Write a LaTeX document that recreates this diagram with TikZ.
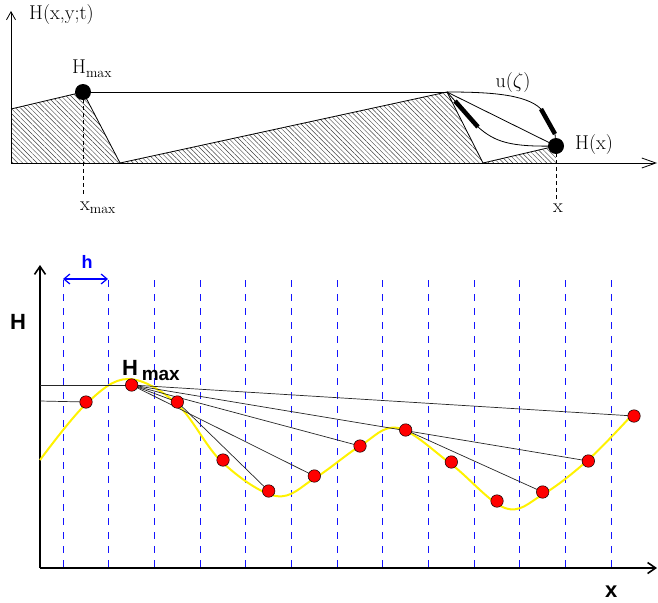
\documentclass[tikz,border=0pt]{standalone}
\usepackage{fontspec}
\newfontfamily\arialf{Liberation Sans}
\usetikzlibrary{arrows.meta,patterns.meta}
\pgfdeclarelayer{bg}
\pgfsetlayers{bg,main}
\definecolor{gridblue}{RGB}{20,20,255}
\begin{document}
\begin{tikzpicture}[x=1pt,y=-1pt,
  tline/.style={line width=0.8pt},
  bigdot/.style={circle,fill=black,inner sep=0pt,minimum size=16pt},
  reddot/.style={circle,fill=red,draw=black,line width=0.5pt,inner sep=0pt,minimum size=12.5pt},
  gridl/.style={draw=gridblue,line width=0.9pt,dash pattern=on 7pt off 7pt},
  topdash/.style={line width=0.8pt,dash pattern=on 4pt off 3pt},
  bar/.style={line width=4.5pt},
  axisb/.style={line width=1.8pt,-{Straight Barb[length=8pt,width=11pt,line width=1.6pt]}},
  toplbl/.style={inner sep=0pt,font=\fontsize{20}{22}\selectfont},
  sanslbl/.style={inner sep=0pt,font=\arialf\bfseries\fontsize{22}{24}\selectfont},
  hypo/.style={line width=0.7pt,black!85}
]
\useasboundingbox (0,0) rectangle (658,602);

% ---------------- top panel ----------------
\coordinate (yax0) at (11,163);
\coordinate (yaxtop) at (11,11);
\coordinate (xaxend) at (657,163);
\coordinate (l1) at (11,109);
\coordinate (v1) at (120,163);
\coordinate (pk) at (447,92);
\coordinate (v2) at (483,163);
\coordinate (hxb) at (556,163);
\coordinate (xmaxend) at (83,196);
\coordinate (xend) at (556,201);
\coordinate (bA1) at (541,109);
\coordinate (bA2) at (555,134);
\coordinate (bC1) at (455,101);
\coordinate (bC2) at (478,127);

\node[bigdot] (hmax) at (83,92) {};
\node[bigdot] (hx) at (556,146) {};

\begin{pgfonlayer}{bg}
\fill[pattern={Lines[angle=-45,distance=3.4pt,line width=0.45pt]}, pattern color=black!75] (yax0) -- (l1) -- (hmax.center) -- (v1) -- (pk) -- (v2) -- (hx.center) -- (hxb) -- cycle;
\draw[tline] (l1) -- (hmax.center) -- (v1) -- (pk) -- (v2) -- (hx.center);
\draw[tline] (hmax.center) -- (pk);
\draw[tline] (pk) .. controls (488,92) and (526,94) .. (bA1);
\draw[bar] (bA1) -- (bA2);
\draw[tline] (bA2) -- (hx.center);
\draw[tline] (pk) -- (hx.center);
\draw[tline] (pk) -- (bC1);
\draw[bar] (bC1) -- (bC2);
\draw[tline] (bC2) .. controls (495,142) and (510,147) .. (hx.center);
\draw[tline,-{Straight Barb[length=8pt,width=9pt]}] (yax0) -- (yaxtop);
\draw[tline,-{Straight Barb[length=14pt,width=10pt]}] (yax0) -- (xaxend);
\draw[topdash] (hmax.center) -- (xmaxend);
\draw[topdash] (hx.center) -- (xend);
\end{pgfonlayer}

\node[toplbl,anchor=base west] (lblH) at (29,20) {H(x,y;t)};
\node[toplbl,anchor=base west] (lblHmax) at (72,74) {H$_{\mathrm{max}}$};
\node[toplbl,anchor=base west] (lblxmax) at (80,210) {x$_{\mathrm{max}}$};
\node[toplbl,anchor=base] (lblx) at (558,212) {x};
\node[toplbl,anchor=base west] (lblHx) at (575,149) {H(x)};
\node[toplbl,anchor=base] (lblu) at (513,87) {u($\zeta$)};

% ---------------- bottom panel ----------------
\coordinate (bo) at (40,568);
\coordinate (byt) at (40,265);
\coordinate (bxe) at (657,568);
\coordinate (hl) at (63,279);
\coordinate (hr) at (108,279);
\coordinate (yh1) at (40,385);
\coordinate (yh2) at (40,401);

\begin{pgfonlayer}{bg}
\foreach \i in {0,...,12}
  \draw[gridl] ({63+45.667*\i},280) -- ({63+45.667*\i},568);
\draw[axisb] (bo) -- (byt);
\draw[axisb] (bo) -- (bxe);
\draw[blue,line width=1.2pt,{Straight Barb[length=6pt,width=10pt]}-{Straight Barb[length=6pt,width=10pt]}] (hl) -- (hr);
\draw[yellow,line width=2pt] plot[smooth,tension=0.6] coordinates {
  (40,460) (86,404) (128,379) (177,404) (222,462) (276,496) (315,478)
  (360,446) (398,428) (451,464) (505,508) (542,495) (588,460) (632,415)};
\end{pgfonlayer}

\foreach \n/\y [count=\k from 0] in {1/402,2/385,3/402,4/460,5/491,6/476,7/446,8/430,9/462,10/501,11/492,12/461,13/416}
  \node[reddot] (p\n) at ({86+45.667*\k},\y) {};

\begin{pgfonlayer}{bg}
\draw[hypo] (yh1) -- (p2.center);
\draw[hypo] (yh2) -- (p1.center);
\draw[hypo] (p2.center) -- (p13.center);
\draw[hypo] (p2.center) -- (p12.center);
\draw[hypo] (p2.center) -- (p7.center);
\draw[hypo] (p2.center) -- (p6.center);
\draw[hypo] (p2.center) -- (p3.center);
\draw[hypo] (p3.center) -- (p5.center);
\draw[hypo] (p8.center) -- (p11.center);
\end{pgfonlayer}

\node[sanslbl,anchor=base west] (lblHb) at (10,329) {H};
\node[sanslbl,anchor=base west] (lblHmaxb) at (122,375) {H\,\raisebox{-5pt}{\fontsize{19}{20}\selectfont max}};
\node[sanslbl,anchor=base,blue,font=\arialf\bfseries\fontsize{18}{20}\selectfont] (lblh) at (87,268) {h};
\node[sanslbl,anchor=base west] (lblxb) at (605,597) {x};
\end{tikzpicture}
\end{document}
